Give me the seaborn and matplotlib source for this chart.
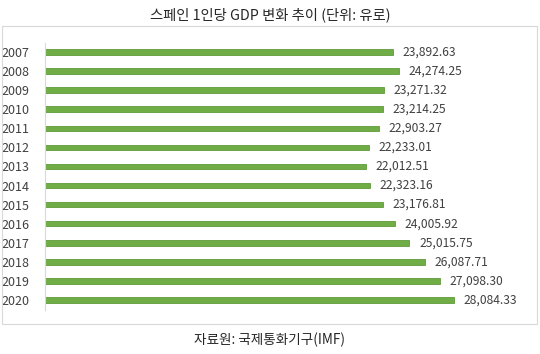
import matplotlib
matplotlib.use("Agg")
import matplotlib.pyplot as plt
import seaborn as sns
import pandas as pd
from matplotlib.patches import Rectangle

years = ["2007", "2008", "2009", "2010", "2011", "2012", "2013",
         "2014", "2015", "2016", "2017", "2018", "2019", "2020"]
gdp_per_capita = [23892.63, 24274.25, 23271.32, 23214.25, 22903.27, 22233.01, 22012.51,
                  22323.16, 23176.81, 24005.92, 25015.75, 26087.71, 27098.30, 28084.33]
title_text = "스페인 1인당 GDP 변화 추이 (단위: 유로)"
source_text = "자료원: 국제통화기구(IMF)"

df = pd.DataFrame({"year": years, "value": gdp_per_capita})

sns.set_theme(style="white")
plt.rcParams["font.family"] = ["Noto Sans CJK KR", "DejaVu Sans"]

fig = plt.figure(figsize=(5.4, 3.54), dpi=100)
ax = fig.add_axes([45/540, 1-309.5/354, 475/540, (309.5-42.5)/354])

sns.barplot(data=df, x="value", y="year", orient="h", color="#70AD47",
            width=0.29, ax=ax, edgecolor="#5f9a3b", linewidth=0.6, saturation=1)

for i, v in enumerate(gdp_per_capita):
    ax.annotate(f"{v:,.2f}", xy=(v, i), xytext=(7, 0), textcoords="offset points",
                ha="left", va="center", fontsize=8.7, color="#404040")

ax.set_xlim(0, 475/0.014565)
ax.set_ylim(13.5, -0.5)
ax.set_xlabel("")
ax.set_ylabel("")
ax.set_xticks([])
ax.tick_params(axis="y", length=0, pad=11, labelsize=9, labelcolor="#404040")
for s in ["top", "right", "bottom"]:
    ax.spines[s].set_visible(False)
ax.spines["left"].set_color("#d9d9d9")
ax.spines["left"].set_linewidth(0.8)
ax.patch.set_alpha(0)

fig.patches.append(Rectangle((2/540, 1-324/354), 535/540, 298/354, transform=fig.transFigure,
                             fill=False, edgecolor="#d9d9d9", linewidth=0.8, zorder=0))

fig.text(0.5, 1-15/354, title_text, ha="center", va="center", fontsize=10.3, color="#262626")
fig.text(0.5, 1-340/354, source_text, ha="center", va="center", fontsize=9.8, color="#262626")

fig.savefig("out.png", dpi=100)
